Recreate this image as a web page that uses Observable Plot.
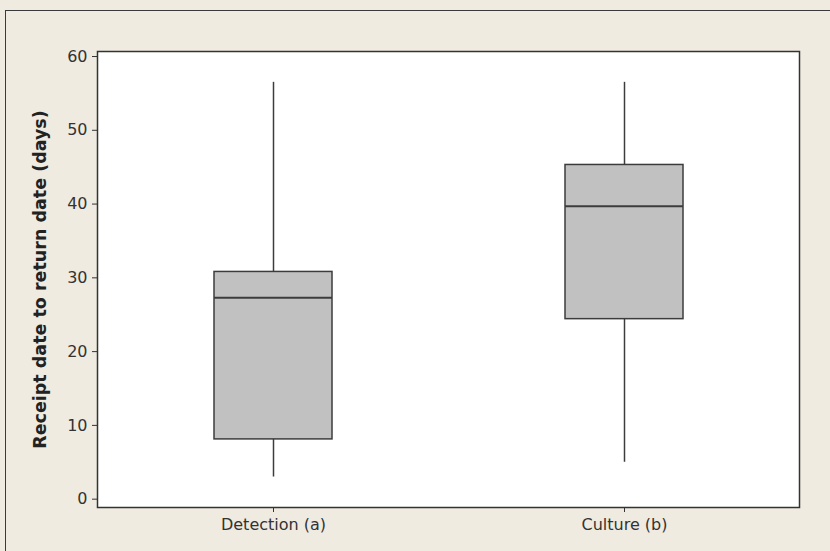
<!DOCTYPE html>
<html>
<head>
<meta charset="utf-8">
<script src="https://cdn.jsdelivr.net/npm/d3@7"></script>
<script src="https://cdn.jsdelivr.net/npm/@observablehq/plot@0.6"></script>
<style>
  html, body { margin: 0; padding: 0; background: #EFEBE1; }
  #wrap { position: relative; width: 830px; height: 551px; overflow: hidden; background: #EFEBE1; }
  #border { position: absolute; left: 5px; top: 10px; width: 900px; height: 900px;
            border-top: 1.5px solid #3a3a3a; border-left: 1.5px solid #3a3a3a; box-sizing: border-box; pointer-events: none; }
  #chart { position: absolute; left: 0; top: 0; }
  #chart svg { background: transparent; }
</style>
</head>
<body>
<div id="wrap"><div id="chart"></div><div id="border"></div></div>
<script>
const categories = ["Detection (a)", "Culture (b)"];
const mins    = [3.0, 5.0];
const q1s     = [8.1, 24.4];
const medians = [27.3, 39.7];
const q3s     = [30.8, 45.3];
const maxs    = [56.5, 56.5];
const yTicks  = [0, 10, 20, 30, 40, 50, 60];

const rows = categories.map((c, i) => ({
  cat: c, min: mins[i], q1: q1s[i], median: medians[i], q3: q3s[i], max: maxs[i]
}));

const ink = "#3c3c3c";

const chart = Plot.plot({
  width: 830,
  height: 551,
  marginLeft: 97,
  marginRight: 31,
  marginTop: 51,
  marginBottom: 44,
  style: { fontFamily: "'DejaVu Sans', Verdana, sans-serif", background: "transparent" },
  x: { type: "band", domain: categories, paddingInner: 0.664, paddingOuter: 0.332 },
  y: { domain: [-1.13, 60.68] },
  marks: [
    Plot.frame({ fill: "white", stroke: "none" }),
    Plot.ruleX(rows, { x: "cat", y1: "min", y2: "q1", stroke: ink, strokeWidth: 1.5 }),
    Plot.ruleX(rows, { x: "cat", y1: "q3", y2: "max", stroke: ink, strokeWidth: 1.5 }),
    Plot.barY(rows, { x: "cat", y1: "q1", y2: "q3", fill: "#C1C1C1", stroke: ink, strokeWidth: 1.5 }),
    Plot.tickY(rows, { x: "cat", y: "median", stroke: ink, strokeWidth: 2 }),
    Plot.frame({ stroke: "#333", strokeWidth: 1.5 }),
    Plot.axisY({ ticks: yTicks, tickSize: 5, tickPadding: 5, stroke: "#333", fill: "#333",
      label: "Receipt date to return date (days)", labelAnchor: "center", labelArrow: "none", labelOffset: 64 }),
    Plot.axisX({ tickSize: 5, tickPadding: 6, stroke: "#333", fill: "#333", label: null })
  ]
});
document.getElementById("chart").appendChild(chart);

// Font sizes applied inline
d3.select(chart).selectAll("text").each(function () {
  let g = this.parentNode, lab = "";
  while (g && g !== chart) { const a = g.getAttribute && g.getAttribute("aria-label"); if (a) { lab = a; break; } g = g.parentNode; }
  const s = this.style;
  if (lab === "y-axis label") { s.fontSize = "17.5px"; s.fontWeight = "bold"; s.fill = "#222"; }
  else { s.fontSize = "16px"; s.fill = "#333"; }
});
</script>
</body>
</html>
